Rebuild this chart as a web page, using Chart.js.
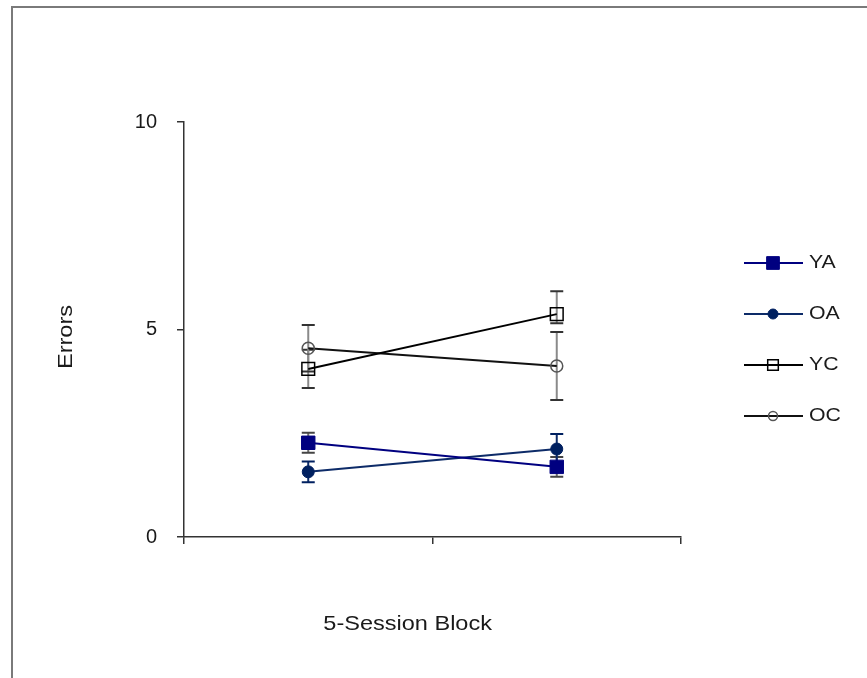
<!DOCTYPE html>
<html>
<head>
<meta charset="utf-8">
<script src="https://cdn.jsdelivr.net/npm/chart.js@4.4.0/dist/chart.umd.min.js"></script>
<style>
  html, body { margin: 0; padding: 0; background: #fff; overflow: hidden; }
  #wrap { position: relative; width: 867px; height: 678px; }
</style>
</head>
<body>
<div id="wrap"><canvas id="errorsChart"></canvas></div>
<script>
// 两个 5-session block, x 轴不显示标签
var blocks = ['Block 1', 'Block 2'];
var yTicks = [0, 5, 10];

var seriesNames = ['YA', 'OA', 'YC', 'OC'];
var yaValues = [2.27, 1.69];
var oaValues = [1.57, 2.12];
var ycValues = [4.05, 5.37];
var ocValues = [4.55, 4.12];

// 误差线 (上/下)
var yaErrPlus = [0.24, 0.24], yaErrMinus = [0.24, 0.24];
var oaErrPlus = [0.25, 0.36], oaErrMinus = [0.25, 0.36];
var ycErrPlus = [0.46, 0.55], ycErrMinus = [0.46, 0.22];
var ocErrPlus = [0.56, 0.82], ocErrMinus = [0.56, 0.82];

var FONT = "'Liberation Sans', Arial, sans-serif";
var TEXT_COLOR = '#1a1a1a';
var AXIS_COLOR = '#333333';

/** 外框: 顶部与左侧灰线 */
var framePlugin = {
  id: 'frame',
  beforeDraw: function(chart) {
    var ctx = chart.ctx;
    ctx.save();
    ctx.strokeStyle = '#7a7a7a';
    ctx.lineWidth = 2;
    ctx.beginPath();
    ctx.moveTo(12, chart.height);
    ctx.lineTo(12, 7);
    ctx.lineTo(chart.width, 7);
    ctx.stroke();
    ctx.restore();
  }
};

/** 误差线, 画在数据点下面 */
var errorBarPlugin = {
  id: 'errorBars',
  beforeDatasetsDraw: function(chart) {
    var ctx = chart.ctx;
    var yScale = chart.scales.y;
    ctx.save();
    chart.data.datasets.forEach(function(ds, i) {
      var meta = chart.getDatasetMeta(i);
      meta.data.forEach(function(pt, j) {
        var v = ds.data[j];
        var top = yScale.getPixelForValue(v + ds.errPlus[j]);
        var bot = yScale.getPixelForValue(v - ds.errMinus[j]);
        ctx.strokeStyle = ds.errLineColor;
        ctx.lineWidth = 2;
        ctx.beginPath();
        ctx.moveTo(pt.x, top);
        ctx.lineTo(pt.x, bot);
        ctx.stroke();
        ctx.strokeStyle = ds.errCapColor;
        ctx.lineWidth = 2;
        ctx.beginPath();
        ctx.moveTo(pt.x - 6.5, top);
        ctx.lineTo(pt.x + 6.5, top);
        ctx.moveTo(pt.x - 6.5, bot);
        ctx.lineTo(pt.x + 6.5, bot);
        ctx.stroke();
      });
    });
    ctx.restore();
  }
};

/** 轴标题 + 右侧图例 (线段+标记) */
var decorPlugin = {
  id: 'decor',
  afterDraw: function(chart) {
    var ctx = chart.ctx;
    var area = chart.chartArea;
    ctx.save();
    ctx.fillStyle = TEXT_COLOR;
    ctx.font = '21px ' + FONT;
    ctx.textAlign = 'center';
    ctx.textBaseline = 'middle';

    // y 轴标题
    ctx.save();
    ctx.translate(66, 337);
    ctx.rotate(-Math.PI / 2);
    ctx.scale(1.12, 1);
    ctx.fillText('Errors', 0, 0);
    ctx.restore();

    // x 轴标题 (原图底部被裁掉一截)
    ctx.save();
    ctx.beginPath();
    ctx.rect(0, 0, chart.width, 630);
    ctx.clip();
    ctx.translate(area.left + (area.right - area.left) * 0.45, 624);
    ctx.scale(1.12, 1);
    ctx.fillText('5-Session Block', 0, 0);
    ctx.restore();

    // 图例
    ctx.font = '19px ' + FONT;
    chart.data.datasets.forEach(function(ds, i) {
      var y = 263 + i * 51;
      ctx.strokeStyle = ds.borderColor;
      ctx.lineWidth = 2;
      ctx.beginPath();
      ctx.moveTo(744, y);
      ctx.lineTo(803, y);
      ctx.stroke();
      ctx.fillStyle = ds.pointBackgroundColor;
      ctx.strokeStyle = ds.pointBorderColor;
      ctx.lineWidth = ds.pointBorderWidth;
      Chart.helpers.drawPoint(ctx, {
        pointStyle: ds.pointStyle,
        rotation: 0,
        radius: ds.legendRadius,
        borderWidth: ds.pointBorderWidth
      }, 773, y);
      ctx.save();
      ctx.fillStyle = TEXT_COLOR;
      ctx.textAlign = 'left';
      ctx.translate(809, y);
      ctx.scale(1.12, 1);
      ctx.fillText(seriesNames[i], 0, 0);
      ctx.restore();
    });
    ctx.restore();
  }
};

new Chart(document.getElementById('errorsChart'), {
  type: 'line',
  data: {
    labels: blocks,
    datasets: [
      {
        label: seriesNames[0], data: yaValues,
        borderColor: '#000080', borderWidth: 2,
        pointStyle: 'rect', pointRadius: 9.5, legendRadius: 9,
        pointBackgroundColor: '#000080', pointBorderColor: '#000080', pointBorderWidth: 1,
        errPlus: yaErrPlus, errMinus: yaErrMinus, errLineColor: '#6e6e6e', errCapColor: '#444444'
      },
      {
        label: seriesNames[1], data: oaValues,
        borderColor: '#0d2b68', borderWidth: 2,
        pointStyle: 'circle', pointRadius: 6, legendRadius: 5,
        pointBackgroundColor: '#002060', pointBorderColor: '#002060', pointBorderWidth: 1,
        errPlus: oaErrPlus, errMinus: oaErrMinus, errLineColor: '#0d2b68', errCapColor: '#002060'
      },
      {
        label: seriesNames[2], data: ycValues,
        borderColor: '#000000', borderWidth: 2,
        pointStyle: 'rect', pointRadius: 9, legendRadius: 7.5,
        pointBackgroundColor: 'rgba(0,0,0,0)', pointBorderColor: '#000000', pointBorderWidth: 1.5,
        errPlus: ycErrPlus, errMinus: ycErrMinus, errLineColor: '#8a8a8a', errCapColor: '#333333'
      },
      {
        label: seriesNames[3], data: ocValues,
        borderColor: '#111111', borderWidth: 2,
        pointStyle: 'circle', pointRadius: 6, legendRadius: 4.5,
        pointBackgroundColor: 'rgba(0,0,0,0)', pointBorderColor: '#555555', pointBorderWidth: 1.5,
        errPlus: ocErrPlus, errMinus: ocErrMinus, errLineColor: '#8a8a8a', errCapColor: '#333333'
      }
    ]
  },
  options: {
    responsive: true,
    maintainAspectRatio: false,
    animation: false,
    layout: { padding: { left: 0, top: 122, right: 186, bottom: 0 } },
    plugins: { legend: { display: false }, tooltip: { enabled: false } },
    elements: { line: { tension: 0 } },
    scales: {
      x: {
        type: 'category',
        offset: true,
        grid: { offset: true, drawOnChartArea: false, drawTicks: true, tickLength: 7, color: AXIS_COLOR, lineWidth: 1.5 },
        border: { display: true, color: AXIS_COLOR, width: 1.5 },
        ticks: { display: false },
        afterFit: function(scale) { scale.height = 141; }
      },
      y: {
        min: 0, max: 10,
        afterBuildTicks: function(scale) { scale.ticks = yTicks.map(function(v) { return { value: v }; }); },
        grid: { drawOnChartArea: false, drawTicks: true, tickLength: 7, color: AXIS_COLOR, lineWidth: 1.5 },
        border: { display: true, color: AXIS_COLOR, width: 1.5 },
        ticks: { padding: 20, color: TEXT_COLOR, font: { family: FONT, size: 20 } },
        afterFit: function(scale) { scale.width = 184; }
      }
    }
  },
  plugins: [framePlugin, errorBarPlugin, decorPlugin]
});
</script>
</body>
</html>
